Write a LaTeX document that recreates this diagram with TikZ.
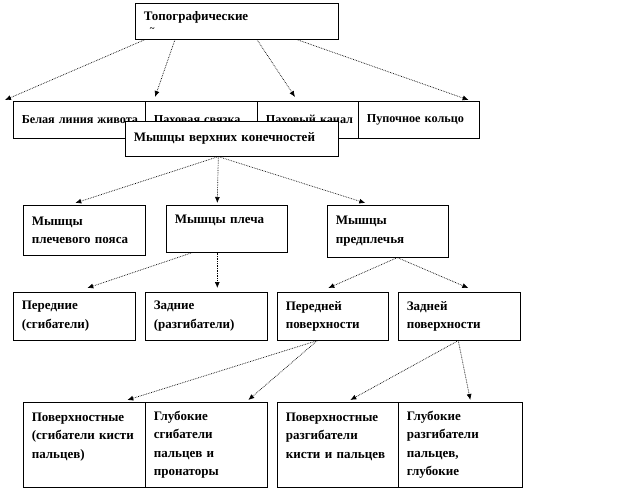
\documentclass[tikz,border=0pt]{standalone}
\usepackage{fontspec}
\setmainfont{Liberation Serif}
\usetikzlibrary{arrows.meta, positioning, calc}
\tikzset{
  cell/.style={rectangle,draw=black,line width=0.6pt,fill=white,anchor=north west,align=left,
    inner xsep=8.5pt,inner ysep=0pt,text width=#1,font=\fontsize{13}{18.5}\selectfont\bfseries},
  strip/.style={cell=#1,font=\fontsize{12.2}{18.5}\selectfont\bfseries},
  arr/.style={-{Latex[length=6pt,width=5pt]},densely dotted,line width=0.7pt}
}
\begin{document}
\begin{tikzpicture}[x=1pt,y=-1pt]
  \useasboundingbox (0,0) rectangle (619,490);

  % topographic part
  \node[cell=186pt, minimum height=36pt] (topo) at (135,3)
    {Топографические\\[-7pt]\hspace*{6pt}{\small\textasciitilde}};
  \node[strip=115pt, minimum height=37pt] (linea)  at (13,101)  {Белая~линия~живота};
  \node[strip=95pt,  minimum height=37pt] (lig)    at (145,101) {Паховая~связка};
  \node[strip=84pt,  minimum height=37pt] (canal)  at (257,101) {Паховый~канал};
  \node[strip=104pt, minimum height=37pt] (umb)    at (358,101) {Пупочное~кольцо};

  \draw[arr] ([xshift=10pt]topo.south west)  -- ([xshift=-8pt,yshift=1pt]linea.north west);
  \draw[arr] ([xshift=40pt]topo.south west)  -- ([xshift=10pt,yshift=4pt]lig.north west);
  \draw[arr] ([xshift=122pt]topo.south west) -- ([xshift=38pt,yshift=4pt]canal.north west);
  \draw[arr] ([xshift=162pt]topo.south west) -- ([xshift=-11pt,yshift=1pt]umb.north east);

  % upper limb
  \node[cell=196pt, minimum height=35pt] (limb) at (125,121) {Мышцы~верхних~конечностей};

  \node[cell=105pt, minimum height=50pt] (girdle) at (23,205)  {Мышцы\\плечевого пояса};
  \node[cell=104pt, minimum height=47pt] (arm)    at (166,205) {Мышцы плеча\\\mbox{}};
  \node[cell=104pt, minimum height=52pt] (fore)   at (327,205) {Мышцы\\предплечья};

  \draw[arr] ([xshift=-13.5pt]limb.south) -- ([xshift=-9pt,yshift=2pt]girdle.north);
  \draw[arr] ([xshift=-13.5pt]limb.south) -- ([xshift=-9.5pt,yshift=2pt]arm.north);
  \draw[arr] ([xshift=-13.5pt]limb.south) -- ([xshift=-22.5pt,yshift=2pt]fore.north);

  \node[cell=105pt, minimum height=48pt] (flex)  at (13,292)  {Передние\\(сгибатели)};
  \node[cell=105pt, minimum height=48pt] (ext)   at (145,292) {Задние\\(разгибатели)};
  \node[cell=94pt,  minimum height=48pt] (front) at (277,292) {Передней\\поверхности};
  \node[cell=105pt, minimum height=48pt] (back)  at (398,292) {Задней\\поверхности};

  \draw[arr] ([xshift=-34.5pt]arm.south) -- ([xshift=13pt,yshift=4pt]flex.north);
  \draw[arr] ([xshift=-9.5pt]arm.south)  -- ([xshift=11pt,yshift=4pt]ext.north);
  \draw[arr] ([xshift=9.5pt]fore.south)  -- ([xshift=-4.5pt,yshift=4pt]front.north);
  \draw[arr] ([xshift=9.5pt]fore.south)  -- ([xshift=9pt,yshift=4pt]back.north);

  \node[cell=105pt, minimum height=85pt] (supflex)  at (23,402)  {Поверхностные\\(сгибатели кисти\\пальцев)\\\mbox{}};
  \node[cell=105pt, minimum height=85pt] (deepflex) at (145,402) {Глубокие\\сгибатели\\пальцев и\\пронаторы};
  \node[cell=104pt, minimum height=85pt] (supext)   at (277,402) {Поверхностные\\разгибатели\\кисти и пальцев\\\mbox{}};
  \node[cell=107pt, minimum height=85pt] (deepext)  at (398,402) {Глубокие\\разгибатели\\пальцев,\\глубокие};

  \draw[arr] ([xshift=-15.5pt]front.south) -- ([xshift=43pt,yshift=2pt]supflex.north);
  \draw[arr] ([xshift=-15.5pt]front.south) -- ([xshift=42pt,yshift=2pt]deepflex.north);
  \draw[arr] ([xshift=-1pt]back.south)     -- ([xshift=12.5pt,yshift=2pt]supext.north);
  \draw[arr] ([xshift=-1pt]back.south)     -- ([xshift=10pt,yshift=2pt]deepext.north);
\end{tikzpicture}
\end{document}
